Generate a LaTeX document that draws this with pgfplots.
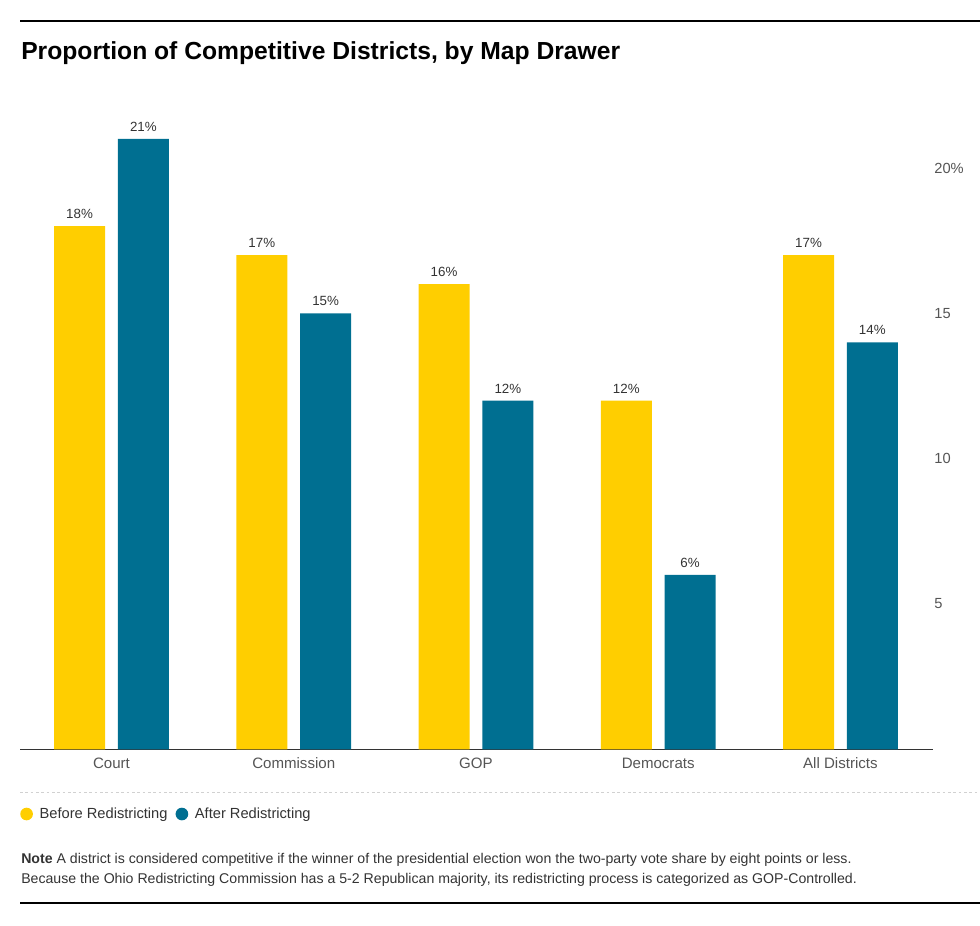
\documentclass[border=0pt]{standalone}
\usepackage{fontspec}
\setmainfont{Liberation Sans}
\usepackage{pgfplots}
\pgfplotsset{compat=1.18}

\definecolor{ylw}{RGB}{255,206,0}
\definecolor{blu}{RGB}{0,111,145}
\definecolor{txt}{RGB}{51,51,51}
\definecolor{tck}{RGB}{85,85,85}

\begin{document}
\begin{tikzpicture}[x=0.75pt,y=0.75pt]
% canvas in reference pixels (980 x 925), y counted from bottom
\path[use as bounding box] (0,0) rectangle (980,925);
\coordinate (AO) at (20,175.7);
\draw[line width=2.2pt] (20,904) -- (980,904);
\node[anchor=base west, inner sep=0pt] at (21,865)
  {\bfseries\fontsize{18.5}{22}\selectfont Proportion of Competitive Districts, by Map Drawer};

\begin{axis}[
  at={(AO)}, anchor=south west,
  scale only axis, width=684.75pt, height=479.6pt,
  xmin=-0.502, xmax=4.508, ymin=0, ymax=22,
  ybar, bar width=0.28,
  axis x line*=bottom, axis y line*=right,
  x axis line style={color=txt, line width=1.1pt},
  y axis line style={draw=none},
  xtick={0,...,4},
  xticklabels={Court,Commission,GOP,Democrats,All Districts},
  ytick={5,10,15,20}, yticklabels={5,10,15,20\%},
  tick style={draw=none},
  xticklabel style={font=\fontsize{11.3}{13}\selectfont, color=tck, yshift=1.5pt},
  yticklabel style={font=\fontsize{11}{13}\selectfont, color=tck, anchor=west, xshift=-2.5pt},
  /pgf/number format/assume math mode=true,
  nodes near coords={\pgfmathprintnumber\pgfplotspointmeta\%},
  nodes near coords style={font=\fontsize{10}{12}\selectfont, color=txt, yshift=2pt},
  legend columns=2,
  legend style={at={(0,-0.1012)}, anchor=west, draw=none, fill=none, inner sep=0pt,
    font=\fontsize{11}{13}\selectfont, text=txt, cells={anchor=west},
    /tikz/every even column/.append style={column sep=4pt}},
]
\addplot[fill=ylw, draw=none, bar shift=-0.175,
  legend image code/.code={\fill[ylw] (4.75pt,0pt) circle (4.75pt); \path (12.5pt,0pt);}]
  coordinates {(0,18) (1,17) (2,16) (3,12) (4,17)};
\addplot[fill=blu, draw=none, bar shift=0.175,
  legend image code/.code={\fill[blu] (4.75pt,0pt) circle (4.75pt); \path (12.5pt,0pt);}]
  coordinates {(0,21) (1,15) (2,12) (3,6) (4,14)};
\legend{Before Redistricting, After Redistricting}
\end{axis}

\draw[color=black!18, dash pattern=on 2pt off 2pt, line width=0.75pt] (20,133) -- (980,133);
\node[anchor=base west, inner sep=0pt, align=left, color=txt,
  font=\fontsize{10.6}{15}\selectfont] at (21,42)
  {\textbf{Note} A district is considered competitive if the winner of the presidential election won the two-party vote share by eight points or less.\\
   Because the Ohio Redistricting Commission has a 5-2 Republican majority, its redistricting process is categorized as GOP-Controlled.};
\draw[line width=2.2pt] (20,22) -- (980,22);
\end{tikzpicture}
\end{document}
